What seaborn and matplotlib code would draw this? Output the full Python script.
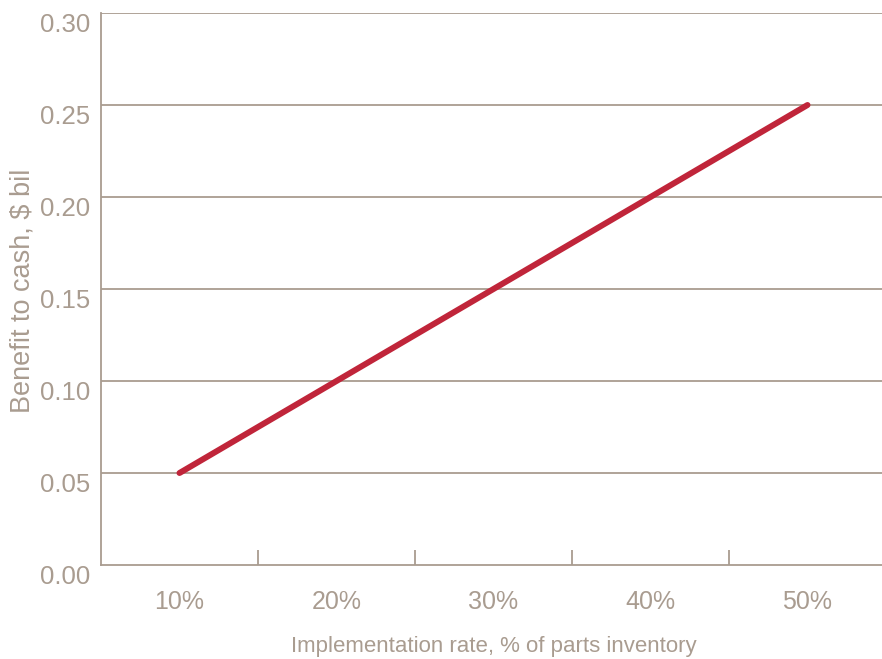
import matplotlib
matplotlib.use("Agg")
import matplotlib.pyplot as plt
import matplotlib.transforms as mtransforms
import seaborn as sns
import pandas as pd

categories = ["10%", "20%", "30%", "40%", "50%"]
benefit = [0.05, 0.10, 0.15, 0.20, 0.25]
yticks = [0.00, 0.05, 0.10, 0.15, 0.20, 0.25, 0.30]

sns.set_theme(style="white")
plt.rcParams["font.family"] = ["Liberation Sans", "DejaVu Sans"]

grey = "#a99c90"
red = "#c0253a"

df = pd.DataFrame({"x": list(range(len(categories))), "y": benefit})

fig = plt.figure(figsize=(8.82, 6.59), dpi=100)
ax = fig.add_axes([101/882, 1-565/659, 785/882, (565-13)/659])

for v in yticks[1:]:
    ax.axhline(v, color=grey, lw=1.3, zorder=1)

sns.lineplot(data=df, x="x", y="y", color=red, lw=4.3, ax=ax, zorder=3,
             solid_capstyle="round")

ax.set_xlim(-0.5, 4.5)
ax.set_ylim(0, 0.30)
ax.set_yticks(yticks)
ax.set_yticklabels([f"{v:.2f}" for v in yticks])
ax.set_xticks([0.5, 1.5, 2.5, 3.5])
ax.set_xticklabels([])
ax.set_xticks(range(len(categories)), minor=True)
ax.set_xticklabels(categories, minor=True)
ax.tick_params(axis="x", which="major", direction="in", length=11, width=1.3, color=grey, bottom=True)
ax.tick_params(axis="x", which="minor", length=0, pad=18, labelsize=18, labelcolor=grey)
ax.tick_params(axis="y", length=0, pad=8, labelsize=18.5, labelcolor=grey)

offset = mtransforms.ScaledTranslation(0, -9/100, fig.dpi_scale_trans)
for lbl in ax.get_yticklabels():
    lbl.set_transform(lbl.get_transform() + offset)

for s in ["top", "right"]:
    ax.spines[s].set_visible(False)
for s in ["left", "bottom"]:
    ax.spines[s].set_color(grey)
    ax.spines[s].set_linewidth(1.3)

ax.set_xlabel("Implementation rate, % of parts inventory", fontsize=16, color=grey, labelpad=16)
ax.set_ylabel("Benefit to cash, $ bil", fontsize=19.5, color=grey)
ax.yaxis.set_label_coords(-0.1006, 0.497)
ax.yaxis.label.set_verticalalignment("center")

fig.savefig("out.png", dpi=100)
